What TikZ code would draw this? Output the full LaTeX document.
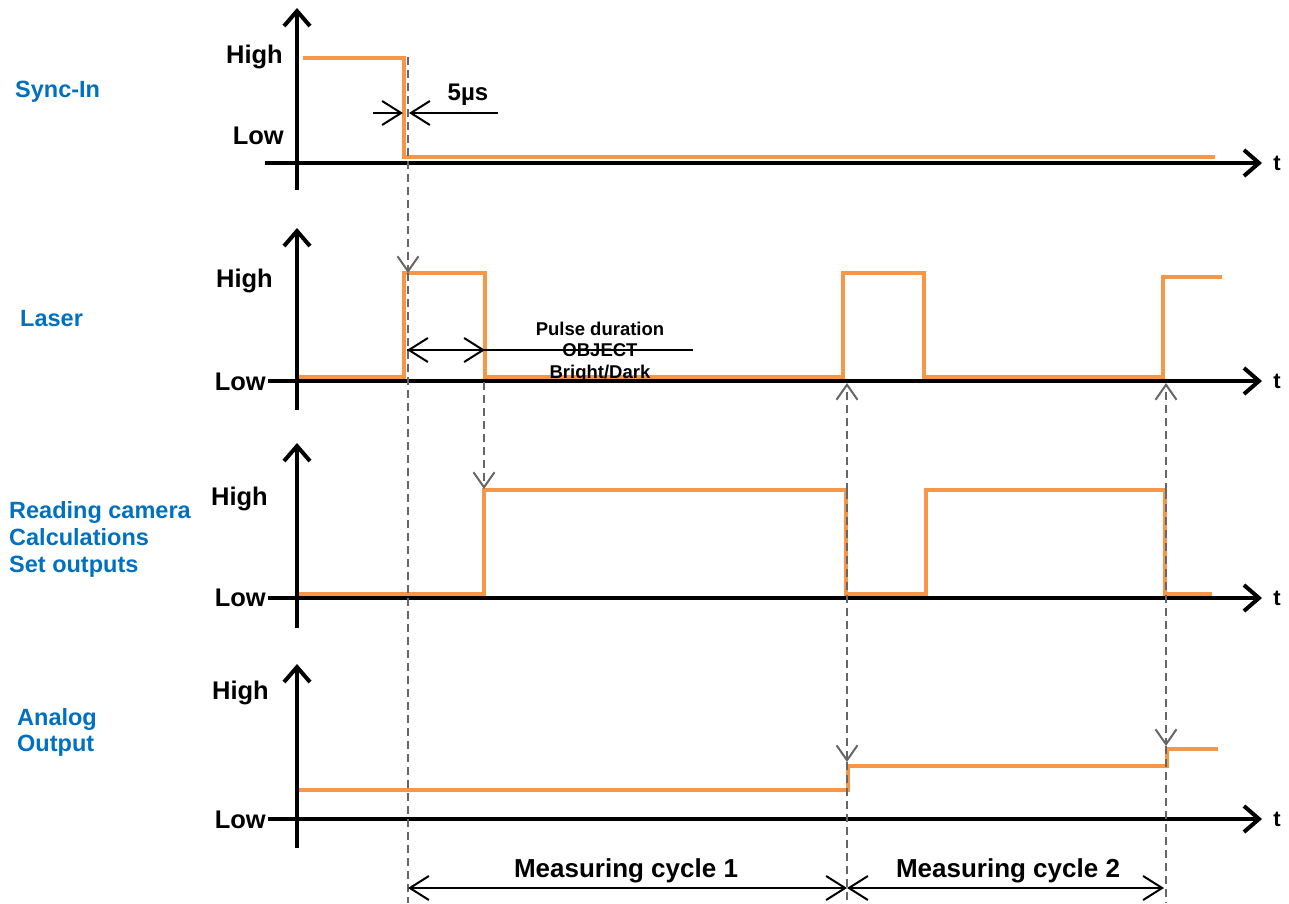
\documentclass[tikz,border=0pt]{standalone}
\usepackage{fontspec}
\setmainfont{Liberation Sans}
\usetikzlibrary{arrows.meta}
\definecolor{sig}{HTML}{F79646}
\definecolor{lblue}{HTML}{0070C0}
\definecolor{dgray}{HTML}{666666}
\begin{document}
\begin{tikzpicture}[x=1pt,y=-1pt,
  axis/.style={line width=4pt,-{Straight Barb[length=15pt,width=26pt,line width=4pt]}},
  sigline/.style={sig,line width=3.6pt,line join=miter},
  dashline/.style={dgray,line width=2.2pt,dash pattern=on 8pt off 5pt},
  dashar/.style={dashline,-{Straight Barb[length=15pt,width=21pt,line width=2pt]}},
  dimline/.style={black,line width=2pt},
  dimtip/.style={-{Straight Barb[length=19pt,width=24pt,line width=2pt]}},
  lab/.style={font=\bfseries\fontsize{25.5}{30}\selectfont,inner sep=0pt},
  tlab/.style={font=\bfseries\fontsize{22}{26}\selectfont,inner sep=0pt,anchor=base},
  blab/.style={font=\bfseries\fontsize{23.5}{27}\selectfont,text=lblue,inner sep=0pt,anchor=base west},
  small/.style={font=\bfseries\fontsize{18.5}{21}\selectfont,inner sep=0pt,anchor=base},
  cyc/.style={font=\bfseries\fontsize{26}{30}\selectfont,inner sep=0pt,anchor=base}]
\useasboundingbox (0,0) rectangle (1289,903);

% ---------- left labels ----------
\node[blab] (lsync) at (15,97) {Sync-In};
\node[blab] (llaser) at (20,326) {Laser};
\node[blab] (lread1) at (9,518) {Reading camera};
\node[blab] (lread2) at (9,545) {Calculations};
\node[blab] (lread3) at (9,572) {Set outputs};
\node[blab] (lana1) at (17,725) {Analog};
\node[blab] (lana2) at (17,751) {Output};

% ---------- axes ----------
\coordinate (y1b) at (297,190); \coordinate (y1t) at (297,8);
\coordinate (x1l) at (265,163); \coordinate (x1r) at (1262,163);
\coordinate (y2b) at (297,410); \coordinate (y2t) at (297,228);
\coordinate (x2l) at (268,381); \coordinate (x2r) at (1262,381);
\coordinate (y3b) at (297,628); \coordinate (y3t) at (297,443);
\coordinate (x3l) at (268,598); \coordinate (x3r) at (1262,598);
\coordinate (y4b) at (297,848); \coordinate (y4t) at (297,664);
\coordinate (x4l) at (268,819); \coordinate (x4r) at (1262,819);
\draw[axis] (y1b) -- (y1t);
\draw[axis] (x1l) -- (x1r);
\draw[axis] (y2b) -- (y2t);
\draw[axis] (x2l) -- (x2r);
\draw[axis] (y3b) -- (y3t);
\draw[axis] (x3l) -- (x3r);
\draw[axis] (y4b) -- (y4t);
\draw[axis] (x4l) -- (x4r);

\node[tlab] (t1) at (1277,170) {t};
\node[tlab] (t2) at (1277,388) {t};
\node[tlab] (t3) at (1277,605) {t};
\node[tlab] (t4) at (1277,826) {t};

% ---------- High / Low ----------
\node[lab,anchor=base east] (h1) at (283,63) {High};
\node[lab,anchor=base east] (l1) at (284,144) {Low};
\node[lab,anchor=base east] (h2) at (273,287) {High};
\node[lab,anchor=base east] (l2) at (266,390) {Low};
\node[lab,anchor=base east] (h3) at (268,505) {High};
\node[lab,anchor=base east] (l3) at (266,606) {Low};
\node[lab,anchor=base east] (h4) at (269,699) {High};
\node[lab,anchor=base east] (l4) at (266,828) {Low};

% ---------- signals ----------
\draw[sigline] (303,58) -- (404,58) -- (404,157) -- (1215,157);
\draw[sigline] (299,377) -- (404,377) -- (404,273) -- (485,273) -- (485,377)
  -- (843,377) -- (843,273) -- (924,273) -- (924,377) -- (1163,377)
  -- (1163,277) -- (1222,277);
\draw[sigline] (299,594) -- (484,594) -- (484,490) -- (846,490) -- (846,594)
  -- (926,594) -- (926,490) -- (1165,490) -- (1165,594) -- (1212,594);
\draw[sigline] (299,790) -- (848,790) -- (848,766) -- (1167,766) -- (1167,749) -- (1218,749);

% ---------- dashed guides ----------
\coordinate (da1) at (408,57);
\coordinate (da2) at (408,273);
\coordinate (da3) at (408,903);
\coordinate (db1) at (484,382);
\coordinate (db2) at (484,489);
\coordinate (dc0) at (847,491);
\coordinate (dc1) at (847,383);
\coordinate (dc2) at (847,762);
\coordinate (dc3) at (847,903);
\coordinate (dd0) at (1166,491);
\coordinate (dd1) at (1166,383);
\coordinate (dd2) at (1166,746);
\coordinate (dd3) at (1166,903);
\draw[dashar] (da1) -- (da2);
\draw[dashline] (da2) -- (da3);
\draw[dashar] (db1) -- (db2);
\draw[dashar] (dc0) -- (dc1);
\draw[dashar] (dc0) -- (dc2);
\draw[dashline] (dc2) -- (dc3);
\draw[dashar] (dd0) -- (dd1);
\draw[dashar] (dd0) -- (dd2);
\draw[dashline] (dd2) -- (dd3);

% ---------- 5 us ----------
\coordinate (u1) at (373,113); \coordinate (u2) at (403,113);
\coordinate (u3) at (498,113); \coordinate (u4) at (409,113);
\draw[dimline,dimtip] (u1) -- (u2);
\draw[dimline,dimtip] (u3) -- (u4);
\node[font=\bfseries\fontsize{24}{28}\selectfont,inner sep=0pt,anchor=base] (us) at (468,100) {5µs};

% ---------- pulse duration ----------
\coordinate (p1) at (407,350); \coordinate (p2) at (485,350); \coordinate (p3) at (693,350);
\draw[dimline,{Straight Barb[length=19pt,width=24pt,line width=2pt]}-] (p1) -- (p3);
\draw[dimline,dimtip] (p1) -- (p2);
\node[small] (pd1) at (600,335) {Pulse duration};
\node[small] (pd2) at (600,356) {OBJECT};
\node[small] (pd3) at (600,378) {Bright/Dark};

% ---------- measuring cycles ----------
\coordinate (m1) at (408,888); \coordinate (m2) at (847,888); \coordinate (m3) at (1164,888);
\draw[dimline,{Straight Barb[length=19pt,width=24pt,line width=2pt]}-{Straight Barb[length=19pt,width=24pt,line width=2pt]}] (m1) -- (m2);
\draw[dimline,{Straight Barb[length=19pt,width=24pt,line width=2pt]}-{Straight Barb[length=19pt,width=24pt,line width=2pt]}] (m2) -- (m3);
\node[cyc] (mc1) at (626,877) {Measuring cycle 1};
\node[cyc] (mc2) at (1008,877) {Measuring cycle 2};
\end{tikzpicture}
\end{document}
